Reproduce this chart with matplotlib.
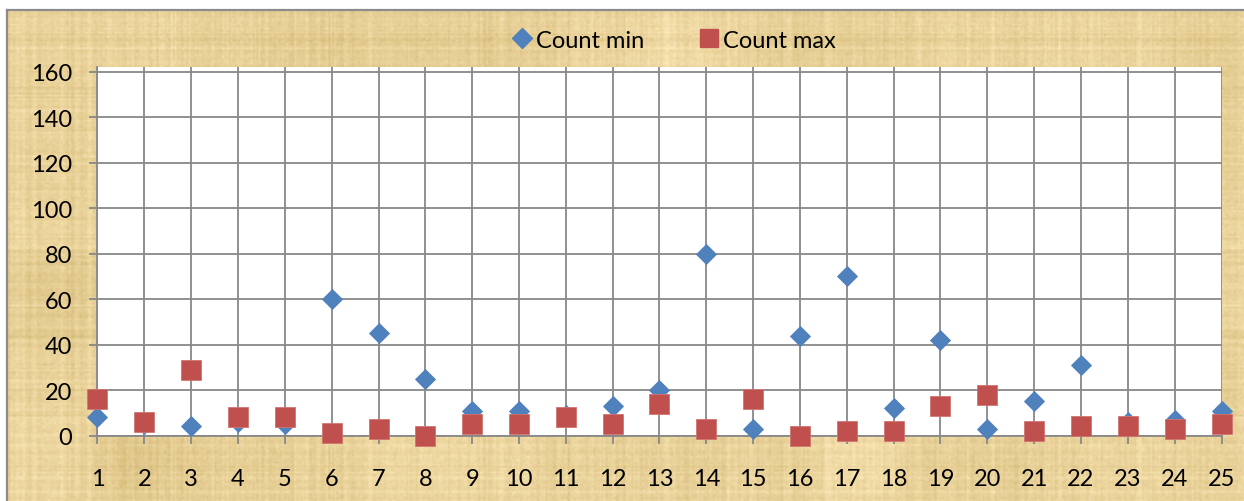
import numpy as np
import matplotlib
matplotlib.use("Agg")
import matplotlib.pyplot as plt
from matplotlib.lines import Line2D

plt.rcParams['font.family'] = ['Lato', 'DejaVu Sans']

# ---- data ----
days = list(range(1, 26))
count_min = [8, 5, 4, 6, 5, 60, 45, 25, 11, 11, 9, 13, 20, 80, 3, 44, 70, 12, 42, 3, 15, 31, 6, 7, 11]
count_max = [16, 6, 29, 8, 8, 1, 3, 0, 5, 5, 8, 5, 14, 3, 16, 0, 2, 2, 13, 18, 2, 4, 4, 3, 5]
y_ticks = [0, 20, 40, 60, 80, 100, 120, 140, 160]

W, H = 1244, 502
fig = plt.figure(figsize=(W / 100, H / 100), dpi=100)
fig.patch.set_facecolor('white')

# ---- parchment backdrop for the chart area ----
rng = np.random.default_rng(7)
th, tw = 250, 620
base = np.array([234, 211, 155]) / 255.0
low = rng.normal(0, 1, (6, 14))
low = np.kron(low, np.ones((th // 6 + 1, tw // 14 + 1)))[:th, :tw]
k = np.ones(25) / 25
low = np.apply_along_axis(lambda r: np.convolve(r, k, mode='same'), 1, low)
low = np.apply_along_axis(lambda c: np.convolve(c, k, mode='same'), 0, low)
hstreak = np.repeat(rng.normal(0, 1, (th, 1)), tw, axis=1)
vstreak = np.repeat(rng.normal(0, 1, (1, tw)), th, axis=0)
fine = rng.normal(0, 1, (th, tw))
shade = 0.045 * low / (np.abs(low).max() + 1e-9) + 0.013 * hstreak + 0.013 * vstreak + 0.012 * fine
tex = np.clip(base[None, None, :] + shade[..., None] * np.array([1.0, 1.15, 1.6]), 0, 1)

x0, y0 = 7.5 / W, 0.0
bg = fig.add_axes([x0, y0, 1 - x0, 1 - 11 / H])
bg.imshow(tex, aspect='auto', interpolation='bilinear', extent=[0, 1, 0, 1])
bg.set_xlim(0, 1)
bg.set_ylim(0, 1)
bg.set_xticks([])
bg.set_yticks([])
for s in ['right', 'bottom']:
    bg.spines[s].set_visible(False)
for s in ['left', 'top']:
    bg.spines[s].set_color('#8c8c8c')
    bg.spines[s].set_linewidth(1.6)
bg.set_zorder(0)

# ---- main plot ----
left, right = 97.5 / W, 1221.5 / W
bottom, top = 1 - 436.5 / H, 1 - 68 / H
ax = fig.add_axes([left, bottom, right - left, top - bottom])
ax.set_zorder(1)
ax.set_facecolor('white')

grid_c = '#888888'
ax.set_xlim(1, 25)
ax.set_ylim(0, 162.2)
ax.set_xticks(days)
ax.set_yticks(y_ticks)
ax.grid(True, color=grid_c, linewidth=1.3)
ax.set_axisbelow(True)

for s in ['top', 'right']:
    ax.spines[s].set_visible(False)
for s in ['left', 'bottom']:
    ax.spines[s].set_color(grid_c)
    ax.spines[s].set_linewidth(1.3)

ax.tick_params(axis='both', color=grid_c, width=1.3, length=6, labelsize=17,
               labelcolor='black')
ax.tick_params(axis='y', pad=12)
ax.tick_params(axis='x', labelbottom=False)

# category labels sit well below the axis line
axes_h_px = 436.5 - 68
label_y = -(480 - 436.5) / axes_h_px
for d in days:
    ax.text(d, label_y, str(d), transform=ax.get_xaxis_transform(),
            ha='center', va='center', fontsize=17, color='black', clip_on=False)

blue = '#4F81BD'
red = '#C0504D'
ax.plot(days, count_min, linestyle='none', marker='D', markersize=9.8,
        color=blue, markeredgecolor=blue, markeredgewidth=0.6, clip_on=False, zorder=3)
ax.plot(days, count_max, linestyle='none', marker='s', markersize=14.2,
        color=red, markeredgecolor='#D07572', markeredgewidth=0.6, clip_on=False, zorder=4)

handles = [
    Line2D([], [], linestyle='none', marker='D', markersize=9.8, color=blue, label='Count min'),
    Line2D([], [], linestyle='none', marker='s', markersize=13, color=red, label='Count max'),
]
fig.legend(handles=handles, loc='center', bbox_to_anchor=(674 / W, 1 - 41 / H), ncol=2,
           frameon=False, fontsize=17, handlelength=0.8, handletextpad=0.2,
           columnspacing=2.35, borderpad=0.2)

fig.savefig('out.png', dpi=100)
